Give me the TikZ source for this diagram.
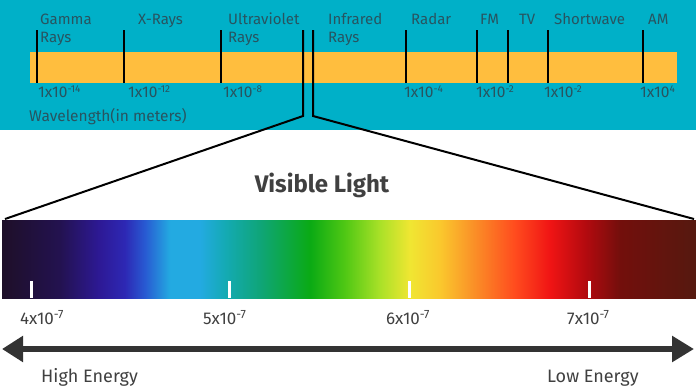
\documentclass[tikz,border=0pt]{standalone}
\usepackage{fontspec}
\setmainfont{Fira Sans}
\usetikzlibrary{arrows.meta}
\definecolor{bgteal}{RGB}{0,176,200}
\definecolor{barorange}{RGB}{255,190,62}
\definecolor{tealtext}{RGB}{40,84,96}
\definecolor{darktext}{RGB}{64,64,64}
\definecolor{arrowgray}{RGB}{51,51,51}
\definecolor{s0}{RGB}{30,15,40}
\definecolor{s1}{RGB}{35,18,80}
\definecolor{s2}{RGB}{45,25,150}
\definecolor{s3}{RGB}{45,40,180}
\definecolor{s4}{RGB}{40,90,210}
\definecolor{s5}{RGB}{35,170,225}
\definecolor{s6}{RGB}{35,170,225}
\definecolor{s7}{RGB}{20,170,180}
\definecolor{s8}{RGB}{15,165,120}
\definecolor{s9}{RGB}{10,170,20}
\definecolor{s10}{RGB}{80,200,20}
\definecolor{s11}{RGB}{170,225,40}
\definecolor{s12}{RGB}{240,230,50}
\definecolor{s13}{RGB}{250,200,45}
\definecolor{s14}{RGB}{250,150,40}
\definecolor{s15}{RGB}{255,75,30}
\definecolor{s16}{RGB}{240,20,20}
\definecolor{s17}{RGB}{180,10,15}
\definecolor{s18}{RGB}{115,15,12}
\definecolor{s19}{RGB}{85,25,15}
\pgfdeclarehorizontalshading{spectrum}{100bp}{color(0bp)=(s0); color(25bp)=(s0);
 color(29.18bp)=(s1); color(32.06bp)=(s2); color(33.86bp)=(s3); color(35.30bp)=(s4);
 color(37.10bp)=(s5); color(39.27bp)=(s6); color(41.07bp)=(s7); color(43.59bp)=(s8);
 color(47.19bp)=(s9); color(49.71bp)=(s10); color(52.23bp)=(s11); color(54.39bp)=(s12);
 color(56.56bp)=(s13); color(58.72bp)=(s14); color(61.96bp)=(s15); color(64.48bp)=(s16);
 color(67.00bp)=(s17); color(69.52bp)=(s18); color(75bp)=(s19); color(100bp)=(s19)}
\newcommand{\myexp}[1]{\raisebox{4.5pt}{\fontsize{10}{10}\selectfont #1}}
\newcommand{\myexpb}[1]{\raisebox{5.5pt}{\fontsize{12}{12}\selectfont #1}}
\begin{document}
\begin{tikzpicture}[x=1pt,y=-1pt,
  toplbl/.style={anchor=base west,inner sep=0pt,text=tealtext,font=\fontsize{15}{15}\selectfont},
  wavelbl/.style={anchor=base west,inner sep=0pt,text=tealtext,font=\fontsize{15.5}{15.5}\selectfont},
  vislbl/.style={anchor=base west,inner sep=0pt,text=darktext,font=\fontsize{17}{17}\selectfont},
  energylbl/.style={anchor=base west,inner sep=0pt,text=darktext,font=\fontsize{18}{18}\selectfont},
  bandtick/.style={line width=2pt,black},
  zoomline/.style={line width=2pt,black,line join=miter},
  whitetick/.style={line width=3pt,white},
]
\useasboundingbox (0,0) rectangle (696,386);
\fill[white] (0,0) rectangle (696,386);
\fill[bgteal] (0,0) rectangle (696,130);
\fill[barorange] (30,52) rectangle (677,83);
% band ticks
\foreach \x in {37,124,221,406,477,508,548,643}{
  \draw[bandtick] (\x,30) -- (\x,83);
}
% zoom lines
\coordinate (vl0) at (303,30);
\coordinate (vl1) at (303,116);
\coordinate (vl2) at (5,219);
\coordinate (vr0) at (313,30);
\coordinate (vr1) at (313,116);
\coordinate (vr2) at (694,219);
\draw[zoomline] (vl0) -- (vl1) -- (vl2);
\draw[zoomline] (vr0) -- (vr1) -- (vr2);
% labels
\node[toplbl] (gamma) at (40,24) {Gamma};
\node[toplbl] (gammab) at (40,42) {Rays};
\node[toplbl] (xray) at (138,24) {X-Rays};
\node[toplbl] (uv) at (228,24) {Ultraviolet};
\node[toplbl] (uvb) at (228,42) {Rays};
\node[toplbl] (ir) at (328,24) {Infrared};
\node[toplbl] (irb) at (328,42) {Rays};
\node[toplbl] (radar) at (411,24) {Radar};
\node[toplbl] (fm) at (480,24) {FM};
\node[toplbl] (tv) at (519,24) {TV};
\node[toplbl] (sw) at (554,24) {Shortwave};
\node[toplbl] (am) at (648,24) {AM};
% wavelengths
\node[wavelbl] (w1) at (38,97) {1x10\myexp{-14}};
\node[wavelbl] (w2) at (128,97) {1x10\myexp{-12}};
\node[wavelbl] (w3) at (223,97) {1x10\myexp{-8}};
\node[wavelbl] (w4) at (404,97) {1x10\myexp{-4}};
\node[wavelbl] (w5) at (476,97) {1x10\myexp{-2}};
\node[wavelbl] (w6) at (544,97) {1x10\myexp{-2}};
\node[wavelbl] (w7) at (640,97) {1x10\myexp{4}};
\node[wavelbl] (wl) at (29,121) {Wavelength(in meters)};
% visible light
\node[anchor=base,inner sep=0pt,text=darktext,font=\fontsize{24}{24}\selectfont\bfseries] (vis) at (322,192) {Visible Light};
\shade[shading=spectrum] (2,220) rectangle (696,298);
\foreach \x in {31,229,409,589}{
  \draw[whitetick] (\x,281) -- (\x,298);
}
\node[vislbl] (n4) at (20,324) {4x10\myexpb{-7}};
\node[vislbl] (n5) at (203,324) {5x10\myexpb{-7}};
\node[vislbl] (n6) at (386,324) {6x10\myexpb{-7}};
\node[vislbl] (n7) at (567,324) {7x10\myexpb{-7}};
% energy arrow
\coordinate (ea) at (2,349);
\coordinate (eb) at (694,349);
\draw[line width=6pt,arrowgray,{Triangle[length=21pt,width=25pt]}-{Triangle[length=22pt,width=25pt]}] (ea) -- (eb);
\node[energylbl] (he) at (41,382) {High Energy};
\node[energylbl] (le) at (547,382) {Low Energy};
\end{tikzpicture}
\end{document}
